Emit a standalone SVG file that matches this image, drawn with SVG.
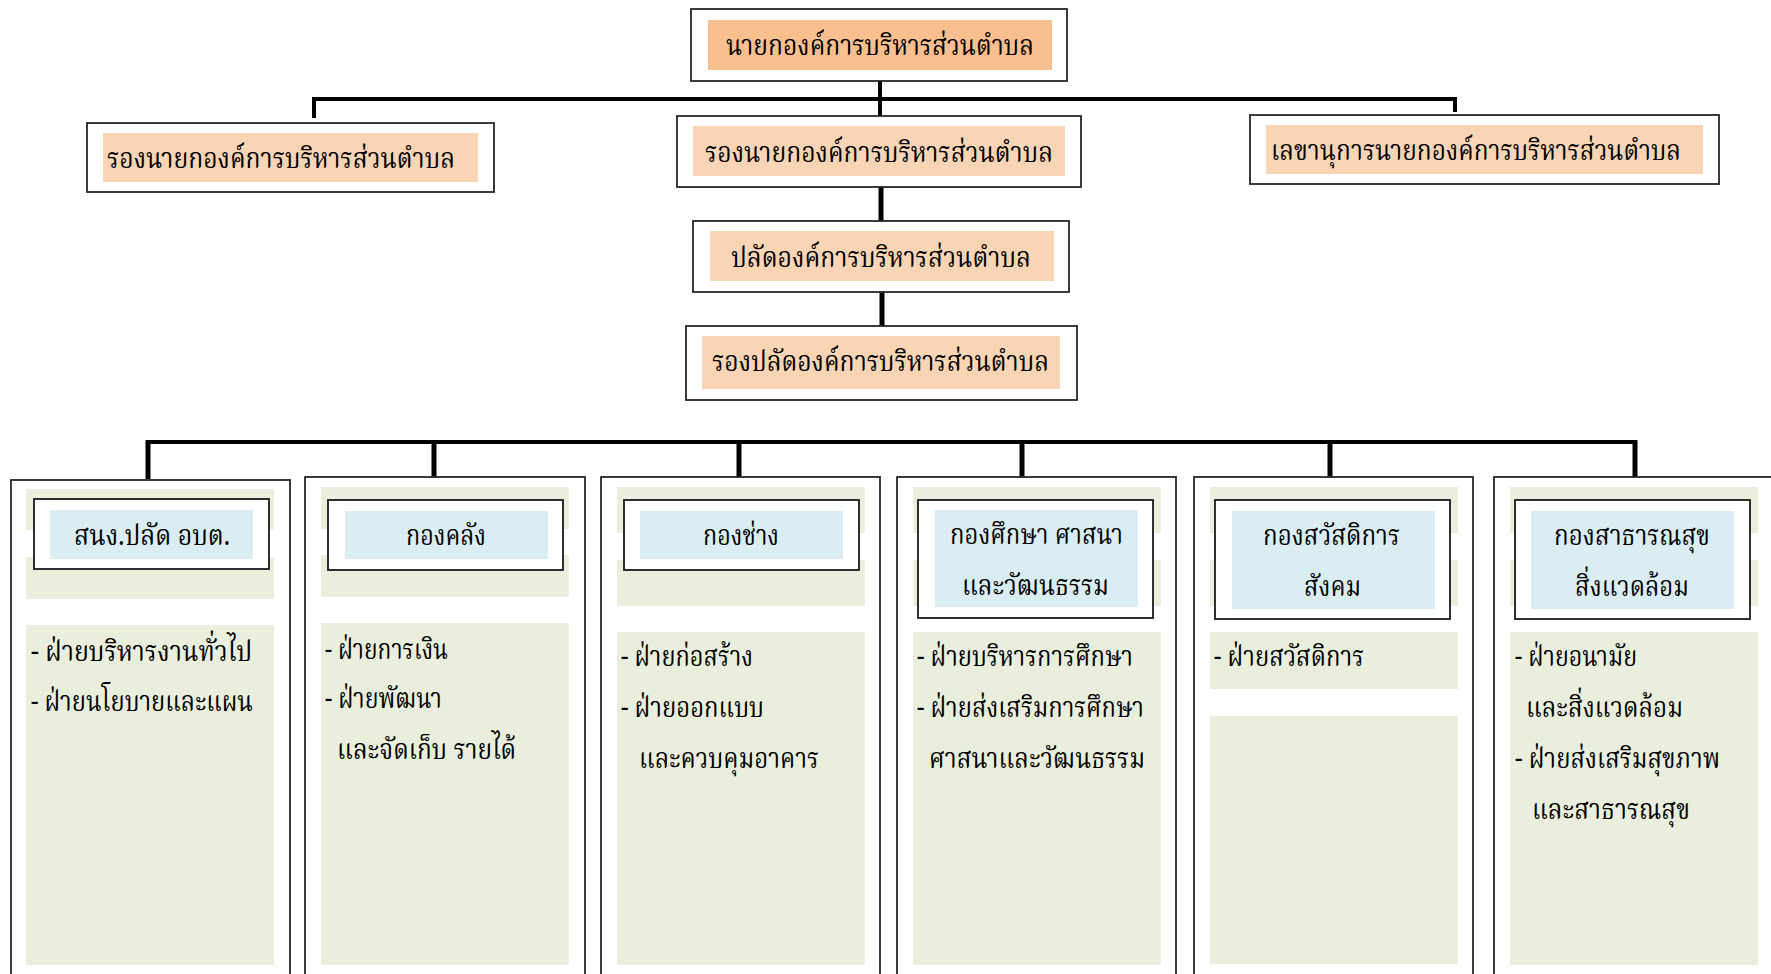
<svg xmlns="http://www.w3.org/2000/svg" width="1771" height="974" viewBox="0 0 1771 974">
  <style>
    .frame { fill: #ffffff; stroke: #262626; stroke-width: 1.8; }
    .hdr { fill: #ffffff; stroke: #1a1a1a; stroke-width: 1.8; }
    .chief { fill: #F9BF8F; }
    .exec { fill: #FAD5B5; }
    .unit { fill: #DAEDF3; }
    .band { fill: #E9EFDC; }
    .wire { stroke: #000000; fill: none; stroke-linecap: butt; }
    text { font-family: "Noto Serif Thai", "Noto Sans Thai Looped", "Noto Sans Thai", "Noto Sans", "DejaVu Sans", sans-serif; font-size: 29px; fill: #000000; }
  </style>

  <rect width="1771" height="974" fill="#ffffff"/>

  <!-- connectors -->
  <g id="connectors" class="wire">
    <line x1="880" y1="81" x2="880" y2="116" stroke-width="4"/>
    <line x1="312" y1="99" x2="1457" y2="99" stroke-width="4"/>
    <line x1="314" y1="97" x2="314" y2="118" stroke-width="4"/>
    <line x1="1455" y1="97" x2="1455" y2="112" stroke-width="4"/>
    <line x1="881" y1="187" x2="881" y2="222" stroke-width="5"/>
    <line x1="882" y1="292" x2="882" y2="326" stroke-width="5"/>
    <line x1="146" y1="442" x2="1637" y2="442" stroke-width="4"/>
    <line x1="148" y1="440" x2="148" y2="479" stroke-width="5"/>
    <line x1="434" y1="440" x2="434" y2="477" stroke-width="5"/>
    <line x1="739" y1="440" x2="739" y2="477" stroke-width="5"/>
    <line x1="1022" y1="440" x2="1022" y2="477" stroke-width="5"/>
    <line x1="1330" y1="440" x2="1330" y2="477" stroke-width="5"/>
    <line x1="1635" y1="440" x2="1635" y2="477" stroke-width="5"/>
  </g>

  <!-- top management -->
  <g id="mayor">
    <rect class="frame" x="691" y="9" width="376" height="72"/>
    <rect class="chief" x="708" y="20" width="344" height="50"/>
    <text x="726" y="55" textLength="308" lengthAdjust="spacingAndGlyphs">นายกองค์การบริหารส่วนตำบล</text>
  </g>

  <g id="deputy-mayor-left">
    <rect class="frame" x="87" y="123" width="407" height="69"/>
    <rect class="exec" x="103" y="133" width="375" height="49"/>
    <text x="107" y="168" textLength="348" lengthAdjust="spacingAndGlyphs">รองนายกองค์การบริหารส่วนตำบล</text>
  </g>

  <g id="deputy-mayor-center">
    <rect class="frame" x="677" y="116" width="404" height="71"/>
    <rect class="exec" x="693" y="126" width="372" height="50"/>
    <text x="705" y="162" textLength="348" lengthAdjust="spacingAndGlyphs">รองนายกองค์การบริหารส่วนตำบล</text>
  </g>

  <g id="secretary">
    <rect class="frame" x="1250" y="115" width="469" height="69"/>
    <rect class="exec" x="1266" y="125" width="437" height="49"/>
    <text x="1271" y="160" textLength="410" lengthAdjust="spacingAndGlyphs">เลขานุการนายกองค์การบริหารส่วนตำบล</text>
  </g>

  <g id="chief-administrator">
    <rect class="frame" x="693" y="221" width="376" height="71"/>
    <rect class="exec" x="710" y="231" width="344" height="50"/>
    <text x="731" y="267" textLength="300" lengthAdjust="spacingAndGlyphs">ปลัดองค์การบริหารส่วนตำบล</text>
  </g>

  <g id="deputy-chief-administrator">
    <rect class="frame" x="686" y="326" width="391" height="74"/>
    <rect class="exec" x="702" y="336" width="358" height="53"/>
    <text x="712" y="371" textLength="337" lengthAdjust="spacingAndGlyphs">รองปลัดองค์การบริหารส่วนตำบล</text>
  </g>

  <!-- divisions -->
  <g id="office-of-chief">
    <rect class="frame" x="11" y="480" width="279" height="520"/>
    <rect class="band" x="26" y="489" width="248" height="41"/>
    <rect class="band" x="26" y="557" width="248" height="42"/>
    <rect class="hdr" x="34" y="499" width="235" height="70"/>
    <rect class="unit" x="50" y="510" width="203" height="49"/>
    <text x="74" y="545" textLength="156" lengthAdjust="spacingAndGlyphs">สนง.ปลัด อบต.</text>
    <rect class="band" x="26" y="625" width="248" height="340"/>
    <text x="31" y="661" textLength="221" lengthAdjust="spacingAndGlyphs">- ฝ่ายบริหารงานทั่วไป</text>
    <text x="31" y="711" textLength="222" lengthAdjust="spacingAndGlyphs">- ฝ่ายนโยบายและแผน</text>
  </g>

  <g id="finance">
    <rect class="frame" x="305" y="477" width="280" height="520"/>
    <rect class="band" x="321" y="487" width="248" height="42"/>
    <rect class="band" x="321" y="555" width="248" height="42"/>
    <rect class="hdr" x="328" y="500" width="235" height="70"/>
    <rect class="unit" x="345" y="511" width="203" height="48"/>
    <text x="406" y="545" textLength="80" lengthAdjust="spacingAndGlyphs">กองคลัง</text>
    <rect class="band" x="321" y="623" width="248" height="342"/>
    <text x="325" y="659" textLength="123" lengthAdjust="spacingAndGlyphs">- ฝ่ายการเงิน</text>
    <text x="325" y="708" textLength="117" lengthAdjust="spacingAndGlyphs">- ฝ่ายพัฒนา</text>
    <text x="337" y="759" textLength="179" lengthAdjust="spacingAndGlyphs">และจัดเก็บ รายได้</text>
  </g>

  <g id="engineering">
    <rect class="frame" x="601" y="477" width="279" height="520"/>
    <rect class="band" x="617" y="487" width="248" height="46"/>
    <rect class="band" x="617" y="560" width="248" height="46"/>
    <rect class="hdr" x="624" y="500" width="235" height="70"/>
    <rect class="unit" x="640" y="511" width="203" height="48"/>
    <text x="703" y="545" textLength="76" lengthAdjust="spacingAndGlyphs">กองช่าง</text>
    <rect class="band" x="617" y="632" width="248" height="333"/>
    <text x="621" y="666" textLength="132" lengthAdjust="spacingAndGlyphs">- ฝ่ายก่อสร้าง</text>
    <text x="621" y="717" textLength="143" lengthAdjust="spacingAndGlyphs">- ฝ่ายออกแบบ</text>
    <text x="639" y="768" textLength="180" lengthAdjust="spacingAndGlyphs">และควบคุมอาคาร</text>
  </g>

  <g id="education">
    <rect class="frame" x="897" y="477" width="279" height="520"/>
    <rect class="band" x="913" y="487" width="248" height="46"/>
    <rect class="band" x="913" y="560" width="248" height="46"/>
    <rect class="hdr" x="918" y="500" width="235" height="118"/>
    <rect class="unit" x="935" y="510" width="203" height="97"/>
    <text x="950" y="544" textLength="173" lengthAdjust="spacingAndGlyphs">กองศึกษา ศาสนา</text>
    <text x="962" y="595" textLength="147" lengthAdjust="spacingAndGlyphs">และวัฒนธรรม</text>
    <rect class="band" x="913" y="632" width="248" height="333"/>
    <text x="917" y="666" textLength="216" lengthAdjust="spacingAndGlyphs">- ฝ่ายบริหารการศึกษา</text>
    <text x="917" y="717" textLength="227" lengthAdjust="spacingAndGlyphs">- ฝ่ายส่งเสริมการศึกษา</text>
    <text x="929" y="768" textLength="216" lengthAdjust="spacingAndGlyphs">ศาสนาและวัฒนธรรม</text>
  </g>

  <g id="social-welfare">
    <rect class="frame" x="1194" y="477" width="279" height="520"/>
    <rect class="band" x="1210" y="487" width="248" height="46"/>
    <rect class="band" x="1210" y="560" width="248" height="46"/>
    <rect class="hdr" x="1215" y="500" width="235" height="119"/>
    <rect class="unit" x="1232" y="511" width="203" height="98"/>
    <text x="1263" y="545" textLength="137" lengthAdjust="spacingAndGlyphs">กองสวัสดิการ</text>
    <text x="1304" y="596" textLength="57" lengthAdjust="spacingAndGlyphs">สังคม</text>
    <rect class="band" x="1210" y="632" width="248" height="57"/>
    <rect class="band" x="1210" y="716" width="248" height="248"/>
    <text x="1214" y="666" textLength="150" lengthAdjust="spacingAndGlyphs">- ฝ่ายสวัสดิการ</text>
  </g>

  <g id="public-health">
    <rect class="frame" x="1494" y="477" width="290" height="520"/>
    <rect class="band" x="1510" y="487" width="248" height="46"/>
    <rect class="band" x="1510" y="560" width="248" height="46"/>
    <rect class="hdr" x="1515" y="500" width="235" height="119"/>
    <rect class="unit" x="1531" y="511" width="203" height="98"/>
    <text x="1554" y="545" textLength="156" lengthAdjust="spacingAndGlyphs">กองสาธารณสุข</text>
    <text x="1575" y="596" textLength="114" lengthAdjust="spacingAndGlyphs">สิ่งแวดล้อม</text>
    <rect class="band" x="1510" y="632" width="248" height="333"/>
    <text x="1515" y="666" textLength="122" lengthAdjust="spacingAndGlyphs">- ฝ่ายอนามัย</text>
    <text x="1526" y="717" textLength="157" lengthAdjust="spacingAndGlyphs">และสิ่งแวดล้อม</text>
    <text x="1515" y="768" textLength="205" lengthAdjust="spacingAndGlyphs">- ฝ่ายส่งเสริมสุขภาพ</text>
    <text x="1532" y="819" textLength="158" lengthAdjust="spacingAndGlyphs">และสาธารณสุข</text>
  </g>
</svg>
